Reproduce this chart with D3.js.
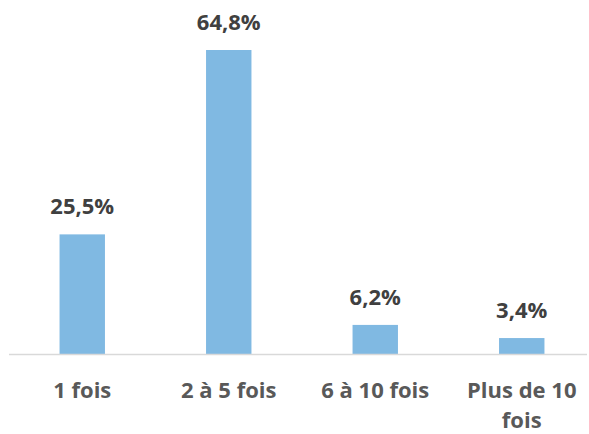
<!DOCTYPE html>
<html>
<head>
	<meta charset="utf-8">
	<script src="https://d3js.org/d3.v7.min.js"></script>
	<style>
		body { margin: 0; background: #fff; }
		text { font-family: "Open Sans", sans-serif; font-weight: bold; }
	</style>
</head>
<body>
	<svg width="589" height="434"></svg>
	<script>
		// data
		const categories = ["1 fois", "2 à 5 fois", "6 à 10 fois", "Plus de 10 fois"];
		const values = [25.5, 64.8, 6.2, 3.4];
		const valueLabels = ["25,5%", "64,8%", "6,2%", "3,4%"];
		const categoryLines = [["1 fois"], ["2 à 5 fois"], ["6 à 10 fois"], ["Plus de 10", "fois"]];

		const svg = d3.select("svg");
		const baseline = 354;

		const x = d3.scaleBand()
			.domain(categories)
			.range([9, 595])
			.paddingInner(0.69)
			.paddingOuter(0.345);

		const y = d3.scaleLinear()
			.domain([0, d3.max(values)])
			.range([baseline, 50]);

		// bars
		svg.selectAll(".bar")
			.data(values)
			.enter()
			.append("rect")
			.attr("class", "bar")
			.attr("x", (d, i) => x(categories[i]))
			.attr("y", d => y(d))
			.attr("width", x.bandwidth())
			.attr("height", d => baseline - y(d))
			.style("fill", "#80B9E2");

		// axis line
		svg.append("line")
			.attr("x1", 9).attr("x2", 587)
			.attr("y1", baseline + 0.5).attr("y2", baseline + 0.5)
			.style("stroke", "#D9D9D9")
			.style("stroke-width", 1.5);

		// value labels
		svg.selectAll(".val")
			.data(values)
			.enter()
			.append("text")
			.attr("class", "val")
			.attr("x", (d, i) => x(categories[i]) + x.bandwidth() / 2)
			.attr("y", d => y(d) - 20)
			.attr("text-anchor", "middle")
			.style("font-size", "22px")
			.style("fill", "#404040")
			.text((d, i) => valueLabels[i]);

		// category labels
		const cat = svg.selectAll(".cat")
			.data(categories)
			.enter()
			.append("text")
			.attr("class", "cat")
			.attr("x", d => x(d) + x.bandwidth() / 2)
			.attr("y", 398)
			.attr("text-anchor", "middle")
			.style("font-size", "22px")
			.style("fill", "#595959");

		cat.selectAll("tspan")
			.data((d, i) => categoryLines[i])
			.enter()
			.append("tspan")
			.attr("x", function() { return d3.select(this.parentNode).attr("x"); })
			.attr("dy", (d, j) => j === 0 ? 0 : 30)
			.text(d => d);
	</script>
</body>
</html>
